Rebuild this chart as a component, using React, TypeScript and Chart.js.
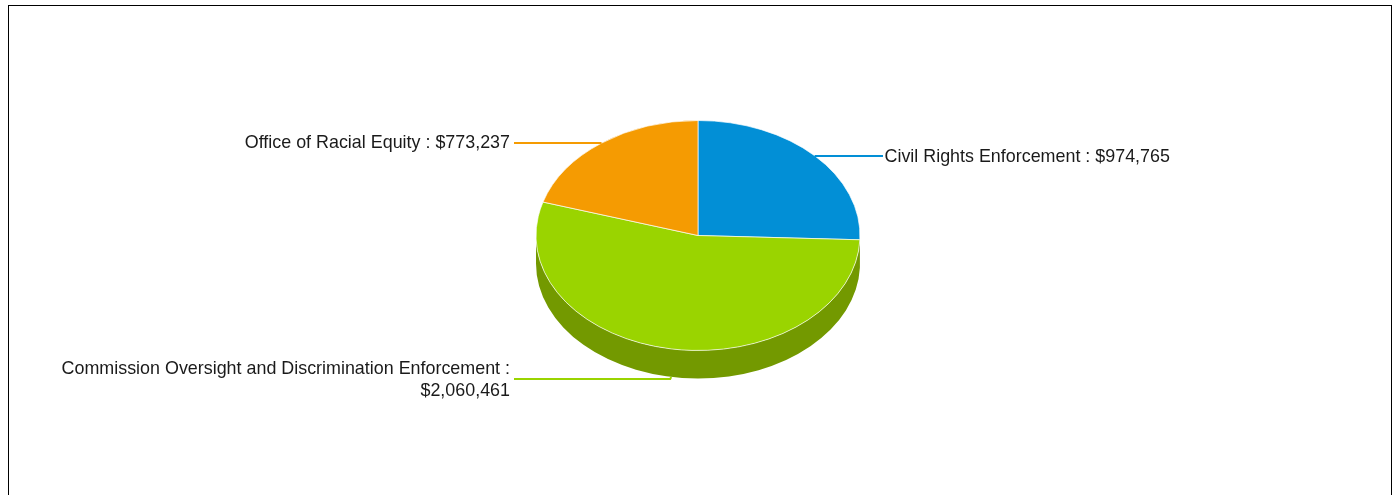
import React, { useEffect, useRef } from "react";
import { Chart, registerables } from "chart.js";

Chart.register(...registerables);

const categories = ["Civil Rights Enforcement", "Commission Oversight and Discrimination Enforcement", "Office of Racial Equity"];
const budgetValues = [974765, 2060461, 773237];
const sliceColors = ["#028fd6", "#9ad400", "#f59b02"];
const sideColors = ["#026b9f", "#739900", "#b87402"];
const labelLines = [
  ["Civil Rights Enforcement : $974,765"],
  ["Commission Oversight and Discrimination Enforcement :", "$2,060,461"],
  ["Office of Racial Equity : $773,237"],
];
const labelNudge = [1, 1, 0];

const TILT = 115 / 162;
const DEPTH = 28;
const RADIUS = 162;
const FONT = '17.9px "Liberation Sans", Arial, sans-serif';

const pie3d = {
  id: "pie3d",
  beforeDatasetsDraw(chart: any) {
    const ctx = chart.ctx;
    const arcs = chart.getDatasetMeta(0).data;
    arcs.forEach((arc: any, i: number) => {
      const { x, y, startAngle, endAngle, outerRadius } = arc.getProps(["x", "y", "startAngle", "endAngle", "outerRadius"], true);
      const r = outerRadius;
      const ranges = [[startAngle, endAngle], [startAngle - 2 * Math.PI, endAngle - 2 * Math.PI]];
      ranges.forEach(([a, b]) => {
        const from = Math.max(a, 0);
        const to = Math.min(b, Math.PI);
        if (to <= from) return;
        ctx.save();
        ctx.beginPath();
        ctx.ellipse(x, y, r, r * TILT, 0, from, to);
        ctx.ellipse(x, y + DEPTH, r, r * TILT, 0, to, from, true);
        ctx.closePath();
        ctx.fillStyle = sideColors[i];
        ctx.fill();
        ctx.restore();
      });
    });
    const { x, y } = arcs[0].getProps(["x", "y"], true);
    ctx.save();
    ctx.translate(x, y);
    ctx.scale(1, TILT);
    ctx.translate(-x, -y);
  },
  afterDatasetsDraw(chart: any) {
    const ctx = chart.ctx;
    ctx.restore();
    const arcs = chart.getDatasetMeta(0).data;
    arcs.forEach((arc: any, i: number) => {
      const { x, y, startAngle, endAngle, outerRadius } = arc.getProps(["x", "y", "startAngle", "endAngle", "outerRadius"], true);
      const mid = (startAngle + endAngle) / 2;
      const px = x + outerRadius * Math.cos(mid);
      const onFront = Math.sin(mid) > 0;
      const py = Math.round(y + outerRadius * TILT * Math.sin(mid) + (onFront ? DEPTH + 2 : 0));
      const right = Math.cos(mid) > 0;
      const endX = x + (right ? 185 : -184);
      ctx.save();
      ctx.strokeStyle = sliceColors[i];
      ctx.lineWidth = 2;
      ctx.beginPath();
      ctx.moveTo(px, py - (onFront ? 2 : 0));
      if (onFront) ctx.lineTo(px - 1, py);
      ctx.lineTo(endX, py);
      ctx.stroke();
      ctx.font = FONT;
      ctx.fillStyle = "#1a1a1a";
      ctx.textAlign = right ? "left" : "right";
      ctx.textBaseline = "middle";
      const lines = labelLines[i];
      const lh = 21.5;
      const top = py - ((lines.length - 1) * lh) / 2 + labelNudge[i];
      lines.forEach((t, k) => ctx.fillText(t, endX + (right ? 1.5 : -4), top + k * lh));
      ctx.restore();
    });
  },
};

export default function App() {
  const ref = useRef<HTMLCanvasElement>(null);
  useEffect(() => {
    document.documentElement.style.overflow = "hidden";
    const chart = new Chart(ref.current!, {
      type: "pie",
      data: {
        labels: categories,
        datasets: [{
          data: budgetValues,
          backgroundColor: sliceColors,
          borderColor: "rgba(255,255,255,0.8)",
          borderWidth: 1,
          radius: RADIUS,
        }],
      },
      options: {
        animation: false,
        responsive: false,
        maintainAspectRatio: false,
        layout: { padding: { right: 4, bottom: 30 } },
        plugins: { legend: { display: false }, tooltip: { enabled: false } },
      },
      plugins: [pie3d],
    } as any);
    return () => chart.destroy();
  }, []);
  return (
    <div style={{ position: "absolute", left: 8, top: 5, width: 1382, height: 600, border: "1px solid #000", background: "#fff" }}>
      <canvas ref={ref} width={1382} height={489} style={{ display: "block" }} />
    </div>
  );
}
